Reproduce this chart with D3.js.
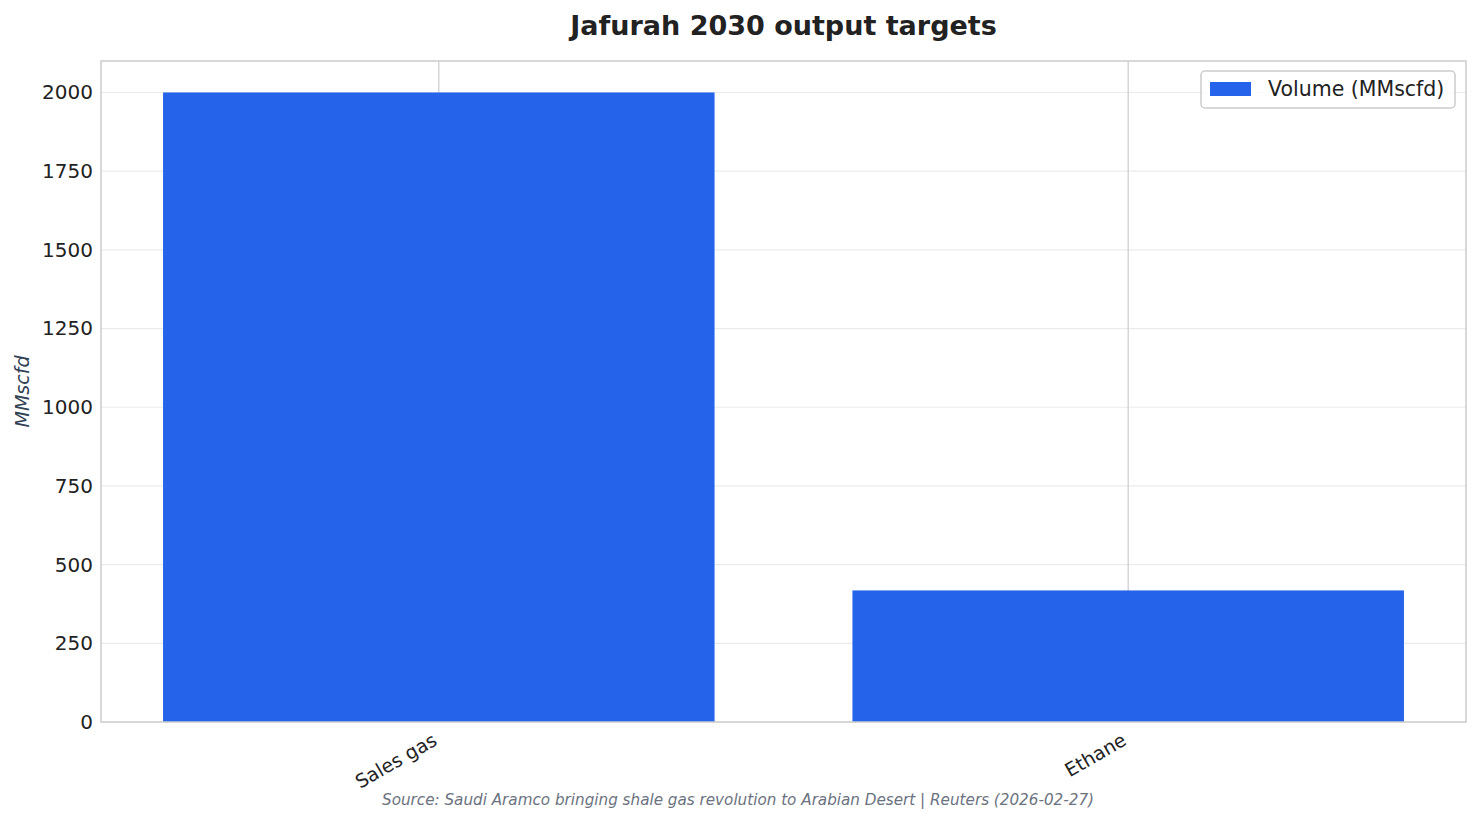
<!DOCTYPE html>
<html>
<head>
<meta charset="utf-8">
<script src="https://cdn.jsdelivr.net/npm/d3@7"></script>
<style>
  body { margin: 0; background: #fff; }
  svg { display: block; font-family: "DejaVu Sans", sans-serif; }
</style>
</head>
<body>
<svg id="chart" width="1480" height="824"></svg>
<script>
// data
const categories = ['Sales gas', 'Ethane'];
const volumes = [2000, 418];
const yTicks = [0, 250, 500, 750, 1000, 1250, 1500, 1750, 2000];
const seriesName = 'Volume (MMscfd)';

const svg = d3.select('#chart');
const margin = {top: 61, right: 14, bottom: 102, left: 101};
const width = 1480 - margin.left - margin.right;
const height = 824 - margin.top - margin.bottom;
const barColor = '#2563eb';

// matplotlib-like x limits: bars span -0.4..1.4, plus 5% margin
const x = d3.scaleLinear().domain([-0.49, categories.length - 1 + 0.49]).range([0, width]);
const barW = x(0.8) - x(0);
const y = d3.scaleLinear().domain([0, 2100]).range([height, 0]);

const g = svg.append('g').attr('transform', `translate(${margin.left},${margin.top})`);

// horizontal grid
g.append('g')
    .selectAll('line')
    .data(yTicks)
    .join('line')
    .attr('x1', 0)
    .attr('x2', width)
    .attr('y1', d => y(d))
    .attr('y2', d => y(d))
    .style('stroke', '#ebebeb')
    .style('stroke-width', 1.2);

// vertical grid at category centres
g.append('g')
    .selectAll('line')
    .data(categories)
    .join('line')
    .attr('x1', (d, i) => x(i))
    .attr('x2', (d, i) => x(i))
    .attr('y1', 0)
    .attr('y2', height)
    .style('stroke', '#cccccc')
    .style('stroke-width', 1.2);

// bars
g.append('g')
    .selectAll('rect')
    .data(volumes)
    .join('rect')
    .attr('x', (d, i) => x(i) - barW / 2)
    .attr('width', barW)
    .attr('y', d => y(d))
    .attr('height', d => height - y(d))
    .style('fill', barColor);

// frame
g.append('rect')
    .attr('width', width)
    .attr('height', height)
    .style('fill', 'none')
    .style('stroke', '#cccccc')
    .style('stroke-width', 1.5);

// y axis
const yAxis = g.append('g')
    .call(d3.axisLeft(y).tickValues(yTicks).tickFormat(d3.format('d')).tickSize(0).tickPadding(8));
yAxis.select('.domain').remove();
yAxis.selectAll('text')
    .style('font-size', '20px')
    .style('font-family', '"DejaVu Sans", sans-serif')
    .style('fill', '#222');

// x axis
const xAxis = g.append('g')
    .attr('transform', `translate(0,${height})`)
    .call(d3.axisBottom(x).tickValues(d3.range(categories.length))
        .tickFormat(i => categories[i]).tickSize(0).tickPadding(0));
xAxis.select('.domain').remove();
xAxis.selectAll('text')
    .attr('text-anchor', 'end')
    .attr('dy', null)
    .attr('y', 0)
    .attr('transform', 'translate(-1,22) rotate(-30)')
    .style('font-size', '19px')
    .style('font-family', '"DejaVu Sans", sans-serif')
    .style('fill', '#222');

// y label
svg.append('text')
    .attr('transform', `translate(29,${margin.top + height / 2}) rotate(-90)`)
    .attr('text-anchor', 'middle')
    .style('font-size', '19px')
    .style('font-style', 'italic')
    .style('fill', '#334155')
    .text('MMscfd');

// title
svg.append('text')
    .attr('x', margin.left + width / 2)
    .attr('y', 35)
    .attr('text-anchor', 'middle')
    .style('font-size', '27px')
    .style('font-weight', 'bold')
    .style('fill', '#222')
    .text('Jafurah 2030 output targets');

// source
svg.append('text')
    .attr('x', 738)
    .attr('y', 805)
    .attr('text-anchor', 'middle')
    .style('font-size', '15.2px')
    .style('font-style', 'italic')
    .style('fill', '#6b7280')
    .text('Source: Saudi Aramco bringing shale gas revolution to Arabian Desert | Reuters (2026-02-27)');

// legend
const lg = svg.append('g').attr('transform', 'translate(1201,71)');
lg.append('rect')
    .attr('width', 254)
    .attr('height', 37)
    .attr('rx', 4)
    .style('fill', 'rgba(255,255,255,0.8)')
    .style('stroke', '#cccccc')
    .style('stroke-width', 1.5);
lg.append('rect')
    .attr('x', 9)
    .attr('y', 11)
    .attr('width', 41)
    .attr('height', 14)
    .style('fill', barColor);
lg.append('text')
    .attr('x', 67)
    .attr('y', 25)
    .style('font-size', '20.5px')
    .style('fill', '#222')
    .text(seriesName);
</script>
</body>
</html>
